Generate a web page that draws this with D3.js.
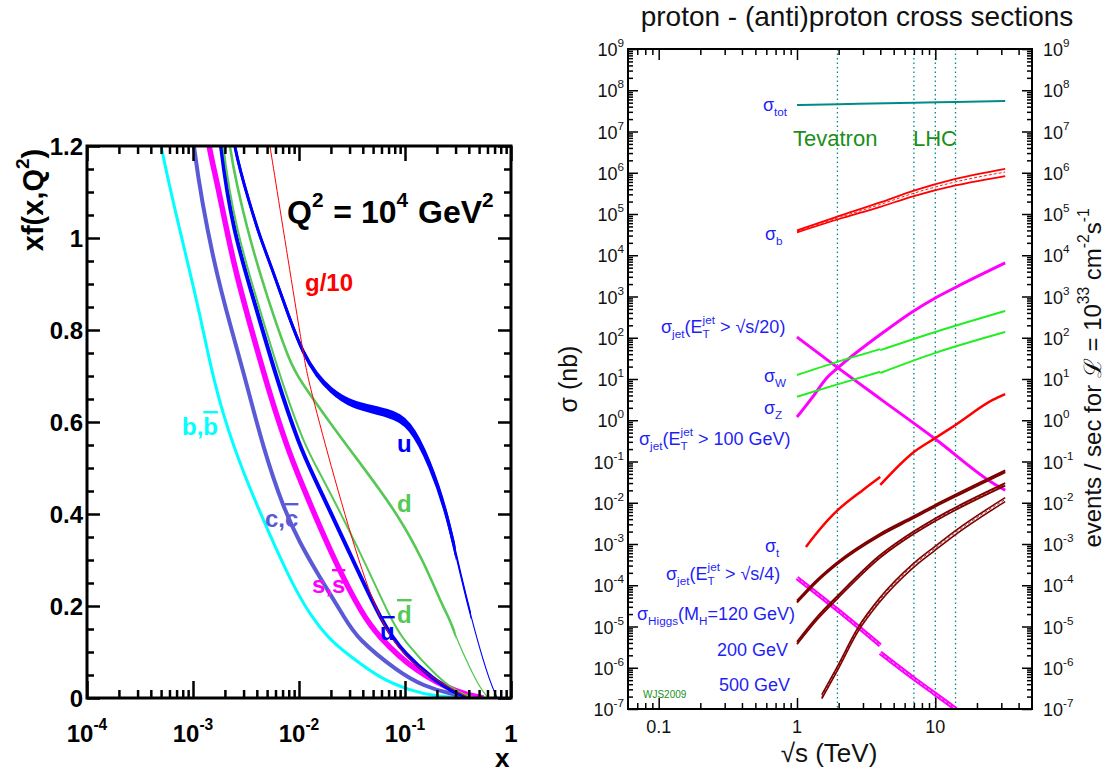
<!DOCTYPE html>
<html>
<head>
<meta charset="utf-8">
<script src="https://d3js.org/d3.v7.min.js"></script>
<style>
  body { margin: 0; background: white; }
  svg text { font-family: "Liberation Sans", Arial, Helvetica, sans-serif; white-space: pre; }
</style>
</head>
<body>
<div id="chart"></div>
<script>
// ---------- left panel: x f(x,Q^2) at Q^2 = 10^4 GeV^2, pairs [x, xf] ----------
const bPdf = [[3.5e-4,1.4],[4.9e-4,1.2],[7.5e-4,1.017],[1.16e-3,0.837],[1.55e-3,0.691],[2.38e-3,0.546],[4.29e-3,0.402],[8.22e-3,0.257],[0.0127,0.18],[0.0196,0.126],[0.0303,0.091],[0.0595,0.041],[0.111,0.017],[0.184,0.004],[0.41,0]];
const cPdf = [[8.5e-4,1.4],[9.8e-4,1.2],[1.55e-3,0.946],[2.38e-3,0.79],[3.23e-3,0.68],[4.57e-3,0.546],[7.06e-3,0.415],[0.0102,0.337],[0.0148,0.272],[0.0277,0.17],[0.0352,0.13],[0.0859,0.057],[0.15,0.026],[0.266,0.009],[0.45,0]];
const sPdf = [[1.25e-3,1.3],[1.39e-3,1.2],[1.68e-3,1.126],[2.38e-3,0.946],[3.68e-3,0.789],[5.32e-3,0.659],[7.71e-3,0.546],[0.0102,0.474],[0.0228,0.285],[0.0402,0.18],[0.0545,0.137],[0.124,0.057],[0.33,0.009],[0.55,0]];
const ubarPdf = [[1.6e-3,1.35],[1.8e-3,1.2],[2.38e-3,1.017],[3.68e-3,0.872],[6.19e-3,0.691],[0.0102,0.546],[0.0133,0.489],[0.0284,0.328],[0.0619,0.158],[0.1,0.095],[0.184,0.041],[0.3,0.01],[0.42,0]];
const dbarPdf = [[1.7e-3,1.35],[1.88e-3,1.2],[2.55e-3,1.017],[3.93e-3,0.872],[6.76e-3,0.691],[0.0114,0.546],[0.0158,0.489],[0.036,0.328],[0.0738,0.17],[0.0957,0.126],[0.209,0.041],[0.33,0.01],[0.46,0]];
const dPdf = [[1.9e-3,1.35],[2.14e-3,1.2],[3.23e-3,1.017],[4.99e-3,0.872],[8.22e-3,0.728],[0.0102,0.691],[0.0196,0.598],[0.0402,0.502],[0.0841,0.402],[0.148,0.30],[0.228,0.198],[0.266,0.17],[0.31,0.126],[0.41,0.065],[0.51,0.022],[0.61,0]];
const uPdf = [[2.0e-3,1.35],[2.38e-3,1.2],[3.45e-3,1.072],[4.29e-3,1.002],[5.32e-3,0.946],[8.22e-3,0.822],[0.0109,0.75],[0.0148,0.70],[0.0196,0.67],[0.0303,0.637],[0.0721,0.62],[0.111,0.598],[0.172,0.511],[0.249,0.402],[0.33,0.272],[0.478,0.126],[0.633,0.035],[0.74,0]];
const uErr = [0,0,0,0,0,0.001,0.002,0.003,0.004,0.006,0.007,0.007,0.006,0.004,0.002,0,0,0];
const gPdf10 = [[4.78e-3,1.267],[5.32e-3,1.2],[0.0109,0.75],[0.0122,0.691],[0.0196,0.511],[0.0376,0.285],[0.0619,0.154],[0.1,0.09],[0.184,0.041],[0.41,0]];

const xfTicks = [0, 0.2, 0.4, 0.6, 0.8, 1, 1.2];
const xDecadesL = [-4, -3, -2, -1];

// ---------- right panel: cross sections (nb) vs sqrt(s) (TeV), pairs [sqrt s, sigma] ----------
const sigmaTot = [[1,4.4e7],[2,4.6e7],[7,4.95e7],[14,5.2e7],[32,5.5e7]];
const sigmaB = [[1,3.8e4],[1.96,8.0e4],[4,1.7e5],[7,3.2e5],[14,6.0e5],[32,1.04e6]];
const sigmaBErr = [0.06,0.08,0.12,0.15,0.18,0.2];
const sigmaJet20 = [[1,104],[1.73,26],[4,3.3],[10,0.35],[26,0.03],[32,0.02]];
const sigmaJet100 = [[1,1.2],[1.3,3.7],[1.64,10.6],[1.97,18.5],[4.44,154],[6.8,421],[10,920],[14.2,1700],[32,6500]];
const sigmaWppbar = [[1,12.5],[1.96,26],[4,53]];
const sigmaWpp = [[4,50],[10,138],[32,445]];
const sigmaZppbar = [[1,3.7],[1.96,7.4],[4,15]];
const sigmaZpp = [[4,14],[10,43],[32,138]];
const sigmaTppbar = [[1.16,8.5e-4],[1.4,1.9e-3],[1.73,4.3e-3],[1.97,6.6e-3],[3,0.0204],[4,0.042]];
const sigmaTpp = [[4,0.027],[7,0.17],[10,0.37],[14,0.77],[26,3.1],[32,4.3]];
const sigmaJet4ppbar = [[1,1.5e-4],[1.97,2.5e-5],[4,3.5e-6]];
const sigmaJet4pp = [[4,2.3e-6],[7,5.5e-7],[10,2.3e-7],[14,1.0e-7],[16,7e-8]];
const higgs120 = [[1,4e-5],[1.4,1.3e-4],[1.97,3.5e-4],[3.96,1.66e-3],[7,4.5e-3],[10,8.5e-3],[14,1.5e-2],[32,5.8e-2]];
const higgs200 = [[1,4e-6],[1.4,1.6e-5],[1.97,5.2e-5],[3.96,4.9e-4],[7,1.9e-3],[10,3.9e-3],[14,7.2e-3],[32,2.8e-2]];
const higgs500 = [[1.51,2e-7],[1.97,1e-6],[2.75,8.3e-6],[3.96,4.4e-5],[7,3.1e-4],[10,8e-4],[14,1.9e-3],[32,1.2e-2]];

const colliderEnergies = [1.96, 7, 10, 14];
const yDecadesR = d3.range(-7, 10);
const xLabelsR = [0.1, 1, 10];

// ---------- setup ----------
const svg = d3.select("#chart").append("svg").attr("width", 1107).attr("height", 775);
svg.append("rect").attr("width", 1107).attr("height", 775).attr("fill", "white");
const defs = svg.append("defs");

function rich(g, x, y, fs, parts) {
  const t = g.append("text").attr("x", x).attr("y", y).attr("font-size", fs);
  let shift = 0;
  parts.forEach(p => {
    let off = 0, size = fs;
    if (p.sub) { off = fs * 0.3; size = fs * 0.65; }
    if (p.sup) { off = -fs * 0.5; size = fs * 0.65; }
    const ts = t.append("tspan").attr("dy", off - shift).attr("font-size", size).text(p.t);
    if (p.dx) ts.attr("dx", p.dx);
    if (p.bar) ts.style("text-decoration", "overline");
    shift = off;
  });
  return t;
}

function ticks(axisFn, scale, values, size, transform, sw) {
  svg.append("g").attr("transform", transform)
    .call(axisFn(scale).tickValues(values).tickSize(size).tickFormat(""))
    .call(a => a.select(".domain").remove())
    .selectAll("line").attr("stroke", "black").attr("stroke-width", sw);
}

function logMinor(lo, hi) {
  const out = [];
  for (let e = Math.floor(Math.log10(lo)); e <= Math.ceil(Math.log10(hi)); e++)
    for (let m = 2; m <= 9; m++) {
      const v = m * Math.pow(10, e);
      if (v > lo * 1.0001 && v < hi * 0.9999) out.push(v);
    }
  return out;
}

// ================= LEFT PANEL =================
const L = { left: 87, right: 511, top: 146, bottom: 698 };
const xL = d3.scaleLog().domain([1e-4, 1]).range([L.left, L.right]);
const yL = d3.scaleLinear().domain([0, 1.2]).range([L.bottom, L.top]);

defs.append("clipPath").attr("id", "clipL").append("rect")
  .attr("x", L.left).attr("y", L.top).attr("width", L.right - L.left).attr("height", L.bottom - L.top);
defs.append("clipPath").attr("id", "uMain").append("rect")
  .attr("x", 0).attr("y", 0).attr("width", xL(0.3)).attr("height", 775);
defs.append("clipPath").attr("id", "uMid").append("rect")
  .attr("x", 0).attr("y", 0).attr("width", xL(0.42)).attr("height", 775);
defs.append("clipPath").attr("id", "dMain").append("rect")
  .attr("x", 0).attr("y", 0).attr("width", xL(0.3)).attr("height", 775);

const lineL = d3.line().x(d => xL(d[0])).y(d => yL(d[1])).curve(d3.curveBasis);
const gL = svg.append("g").attr("clip-path", "url(#clipL)");

function pdf(data, color, width, clip) {
  const p = gL.append("path").datum(data).attr("d", lineL)
    .attr("fill", "none").attr("stroke", color).attr("stroke-width", width);
  if (clip) p.attr("clip-path", `url(#${clip})`);
}

pdf(bPdf, "#00ffff", 3);
pdf(cPdf, "#5a5ad6", 4);
pdf(sPdf, "#ff00ff", 5.5);
pdf(ubarPdf, "#0000ff", 4);
pdf(dbarPdf, "#55c855", 2);
pdf(dPdf, "#55c855", 1.3);
pdf(dPdf, "#55c855", 2.6, "dMain");
pdf(uPdf, "#0000ff", 1.1);
pdf(uPdf, "#0000ff", 2, "uMid");
pdf(uPdf, "#0000ff", 3, "uMain");
gL.append("path").datum(uPdf)
  .attr("d", d3.area().x(d => xL(d[0]))
    .y0((d, i) => yL(d[1] - uErr[i])).y1((d, i) => yL(d[1] + uErr[i])).curve(d3.curveBasis))
  .attr("fill", "#0000ff").attr("stroke", "#0000ff").attr("stroke-width", 2.5)
  .attr("clip-path", "url(#uMain)");
pdf(gPdf10, "#ff0000", 1);

// frame + ticks
const majL = xDecadesL.concat([0]).map(e => Math.pow(10, e));
ticks(d3.axisBottom, xL, logMinor(1e-4, 1), -8, `translate(0,${L.bottom})`, 2.5);
ticks(d3.axisBottom, xL, majL, -17, `translate(0,${L.bottom})`, 2.5);
ticks(d3.axisTop, xL, logMinor(1e-4, 1), -8, `translate(0,${L.top})`, 2.5);
ticks(d3.axisTop, xL, majL, -15, `translate(0,${L.top})`, 2.5);
const minorYL = d3.range(0, 25).map(i => i * 0.05).filter(v => Math.abs(v * 5 - Math.round(v * 5)) > 1e-6);
ticks(d3.axisLeft, yL, minorYL, -7, `translate(${L.left},0)`, 2.5);
ticks(d3.axisLeft, yL, xfTicks, -13, `translate(${L.left},0)`, 2.5);
ticks(d3.axisRight, yL, minorYL, -7, `translate(${L.right},0)`, 2.5);
ticks(d3.axisRight, yL, xfTicks, -13, `translate(${L.right},0)`, 2.5);
svg.append("rect").attr("x", L.left).attr("y", L.top).attr("width", L.right - L.left).attr("height", L.bottom - L.top)
  .attr("fill", "none").attr("stroke", "black").attr("stroke-width", 3);

const gLT = svg.append("g").attr("font-weight", "bold");
xfTicks.forEach(v => {
  gLT.append("text").attr("x", 83).attr("y", yL(v) + 8.5).attr("text-anchor", "end")
    .attr("font-size", 24).text(v === 0 ? "0" : d3.format("~g")(v));
});
xDecadesL.forEach(e => {
  rich(gLT, xL(Math.pow(10, e)), 742, 24, [{ t: "10" }, { t: String(e), sup: 1 }]).attr("text-anchor", "middle");
});
gLT.append("text").attr("x", xL(1)).attr("y", 742).attr("text-anchor", "middle").attr("font-size", 24).text("1");
gLT.append("text").attr("x", 495).attr("y", 767).attr("font-size", 26).text("x");
rich(gLT, 0, 0, 29, [{ t: "xf(x,Q" }, { t: "2", sup: 1 }, { t: ")" }])
  .attr("text-anchor", "middle").attr("transform", "translate(43,200) rotate(-90)");

rich(gLT, 287, 223, 32, [{ t: "Q" }, { t: "2", sup: 1 }, { t: " = 10", dx: 1 }, { t: "4", sup: 1 }, { t: " GeV", dx: 1 }, { t: "2", sup: 1 }]);
gLT.append("text").attr("x", 305).attr("y", 291).attr("font-size", 24).attr("fill", "#ff0000").text("g/10");
gLT.append("text").attr("x", 397).attr("y", 452).attr("font-size", 24).attr("fill", "#0000ff").text("u");
gLT.append("text").attr("x", 397).attr("y", 512).attr("font-size", 24).attr("fill", "#55c855").text("d");
rich(gLT, 397, 623, 24, [{ t: "d", bar: 1 }]).attr("fill", "#55c855");
rich(gLT, 380, 640, 24, [{ t: "u", bar: 1 }]).attr("fill", "#0000ff");
rich(gLT, 312, 593, 24, [{ t: "s," }, { t: "s", bar: 1 }]).attr("fill", "#ff00ff");
rich(gLT, 265, 527, 24, [{ t: "c," }, { t: "c", bar: 1 }]).attr("fill", "#5a5ad6");
rich(gLT, 182, 435, 24, [{ t: "b," }, { t: "b", bar: 1 }]).attr("fill", "#00ffff");

// ================= RIGHT PANEL =================
const R = { left: 628, right: 1032, top: 49, bottom: 709 };
const xR = d3.scaleLog().domain([0.06, 50]).range([R.left, R.right]);
const yR = d3.scaleLog().domain([1e-7, 1e9]).range([R.bottom, R.top]);

defs.append("clipPath").attr("id", "clipR").append("rect")
  .attr("x", R.left).attr("y", R.top).attr("width", R.right - R.left).attr("height", R.bottom - R.top);

const gR = svg.append("g").attr("clip-path", "url(#clipR)");
const lineR = d3.line().x(d => xR(d[0])).y(d => yR(d[1])).curve(d3.curveMonotoneX);

colliderEnergies.forEach(e => {
  gR.append("line").attr("x1", xR(e)).attr("x2", xR(e)).attr("y1", R.top).attr("y2", R.bottom)
    .attr("stroke", "#008b8b").attr("stroke-width", 1.3).attr("stroke-dasharray", "1.5,3");
});

function xs(data, color, width, dash) {
  const p = gR.append("path").datum(data).attr("d", lineR)
    .attr("fill", "none").attr("stroke", color).attr("stroke-width", width);
  if (dash) p.attr("stroke-dasharray", dash);
}
function band(data, color, width, frac) {
  xs(data.map(d => [d[0], d[1] * (1 + frac)]), color, width);
  xs(data.map(d => [d[0], d[1] * (1 - frac)]), color, width);
  xs(data, color, 0.8, "3,2");
}

xs(sigmaTot, "#008b8b", 2);
xs(sigmaB.map((d, i) => [d[0], d[1] * (1 + sigmaBErr[i])]), "#ff0000", 1.8);
xs(sigmaB.map((d, i) => [d[0], d[1] * (1 - sigmaBErr[i])]), "#ff0000", 1.8);
xs(sigmaB, "#ff0000", 0.9, "3,2");
xs(sigmaJet20, "#ff00ff", 3);
xs(sigmaJet100, "#ff00ff", 3);
xs(sigmaWppbar, "#22ee22", 2);
xs(sigmaWpp, "#22ee22", 2);
xs(sigmaZppbar, "#22ee22", 2);
xs(sigmaZpp, "#22ee22", 2);
xs(sigmaTppbar, "#ff0000", 2.5);
xs(sigmaTpp, "#ff0000", 2.5);
[sigmaJet4ppbar, sigmaJet4pp].forEach(d => { xs(d, "#ff00ff", 4.5); xs(d, "white", 0.7, "3,2"); });
band(higgs120, "#7f0000", 2, 0.05);
band(higgs200, "#7f0000", 1.8, 0.07);
band(higgs500, "#7f0000", 1.6, 0.11);

// frame + ticks
const majR = yDecadesR.map(e => Math.pow(10, e));
const minR = logMinor(1e-7, 1e9);
ticks(d3.axisLeft, yR, minR, -5, `translate(${R.left},0)`, 1.5);
ticks(d3.axisLeft, yR, majR, -10, `translate(${R.left},0)`, 1.5);
ticks(d3.axisRight, yR, minR, -5, `translate(${R.right},0)`, 1.5);
ticks(d3.axisRight, yR, majR, -10, `translate(${R.right},0)`, 1.5);
const xMinR = logMinor(0.06, 50);
ticks(d3.axisBottom, xR, xMinR, -6, `translate(0,${R.bottom})`, 1.5);
ticks(d3.axisBottom, xR, xLabelsR, -11, `translate(0,${R.bottom})`, 1.5);
ticks(d3.axisTop, xR, xMinR, -6, `translate(0,${R.top})`, 1.5);
ticks(d3.axisTop, xR, xLabelsR, -11, `translate(0,${R.top})`, 1.5);
svg.append("rect").attr("x", R.left).attr("y", R.top).attr("width", R.right - R.left).attr("height", R.bottom - R.top)
  .attr("fill", "none").attr("stroke", "black").attr("stroke-width", 2);

const gRT = svg.append("g").attr("fill", "#111");
yDecadesR.forEach(e => {
  rich(gRT, 624, yR(Math.pow(10, e)) + 7, 18, [{ t: "10" }, { t: String(e), sup: 1 }]).attr("text-anchor", "end");
  rich(gRT, 1043, yR(Math.pow(10, e)) + 7, 18, [{ t: "10" }, { t: String(e), sup: 1 }]);
});
xLabelsR.forEach(v => {
  gRT.append("text").attr("x", xR(v)).attr("y", 733).attr("text-anchor", "middle").attr("font-size", 18).text(d3.format("~g")(v));
});
gRT.append("text").attr("x", 829).attr("y", 762).attr("text-anchor", "middle").attr("font-size", 26).text("√s (TeV)");
gRT.append("text").attr("text-anchor", "middle").attr("font-size", 25)
  .attr("transform", "translate(577,379) rotate(-90)").text("σ (nb)");
rich(gRT, 0, 0, 24, [{ t: "events / sec for ℒ = 10" }, { t: "33", sup: 1 }, { t: " cm" }, { t: "-2", sup: 1 }, { t: "s" }, { t: "-1", sup: 1 }])
  .attr("text-anchor", "middle").attr("transform", "translate(1101,378) rotate(-90)");
gRT.append("text").attr("x", 857).attr("y", 26).attr("text-anchor", "middle").attr("font-size", 28)
  .text("proton - (anti)proton cross sections");

const green = "#1a8f1a";
svg.append("text").attr("x", 793).attr("y", 146).attr("font-size", 22).attr("fill", green).text("Tevatron");
svg.append("text").attr("x", 913).attr("y", 146).attr("font-size", 22).attr("fill", green).text("LHC");
svg.append("text").attr("x", 643).attr("y", 698).attr("font-size", 10).attr("fill", green).text("WJS2009");

const gB = svg.append("g").attr("fill", "#1f1ff5");
const jet = [{ t: "σ" }, { t: "jet", sub: 1 }, { t: "(E" }, { t: "T", sub: 1 }, { t: "jet", sup: 1, dx: -7 }];
rich(gB, 763, 111, 18, [{ t: "σ" }, { t: "tot", sub: 1 }]);
rich(gB, 765, 240, 18, [{ t: "σ" }, { t: "b", sub: 1 }]);
rich(gB, 661, 333, 18, jet.concat([{ t: " > √s/20)" }]));
rich(gB, 764, 382, 18, [{ t: "σ" }, { t: "W", sub: 1 }]);
rich(gB, 764, 414, 18, [{ t: "σ" }, { t: "Z", sub: 1 }]);
rich(gB, 639, 445, 18, jet.concat([{ t: " > 100 GeV)" }]));
rich(gB, 765, 552, 18, [{ t: "σ" }, { t: "t", sub: 1 }]);
rich(gB, 666, 580, 18, jet.concat([{ t: " > √s/4)" }]));
rich(gB, 637, 620, 18, [{ t: "σ" }, { t: "Higgs", sub: 1 }, { t: "(M" }, { t: "H", sub: 1 }, { t: "=120 GeV)" }]);
gB.append("text").attr("x", 717).attr("y", 656).attr("font-size", 18).text("200 GeV");
gB.append("text").attr("x", 719).attr("y", 691).attr("font-size", 18).text("500 GeV");
</script>
</body>
</html>
